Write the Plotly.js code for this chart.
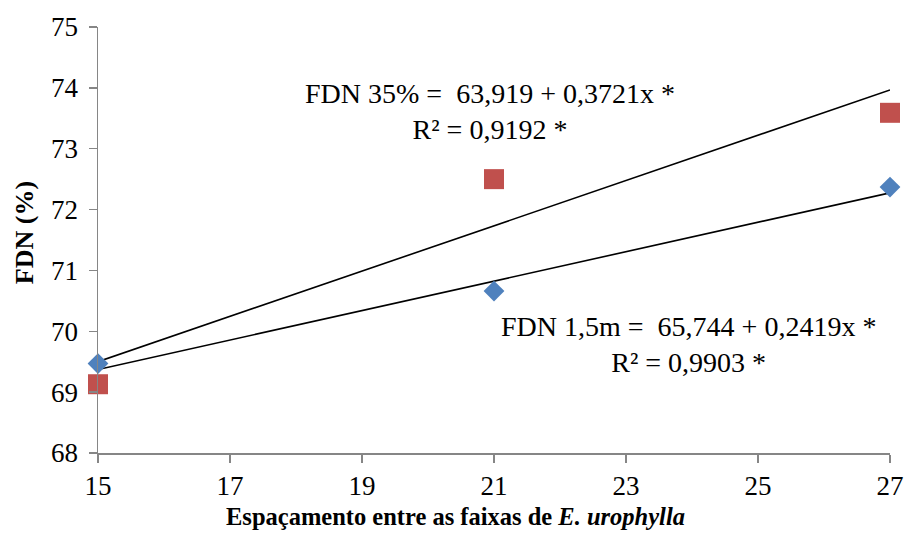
<!DOCTYPE html>
<html>
<head>
<meta charset="utf-8">
<script src="https://cdn.plot.ly/plotly-3.0.1.min.js"></script>
<style>
  html, body { margin: 0; padding: 0; background: #fff; }
  #chart { width: 907px; height: 541px; }
</style>
</head>
<body>
<div id="chart"></div>
<script>
// Spacing between E. urophylla strips (m)
const espacamento = [15, 21, 27];
// FDN (%) observed values
const fdn15m = [69.47, 70.66, 72.37];
const fdn35 = [69.13, 72.50, 73.59];
// Fitted linear regressions: intercept and slope
const reg15m = { a: 65.744, b: 0.2419 };
const reg35 = { a: 63.919, b: 0.3721 };
// Axis ticks
const xTicks = [15, 17, 19, 21, 23, 25, 27];
const yTicks = [68, 69, 70, 71, 72, 73, 74, 75];

const xFit = [espacamento[0], espacamento[espacamento.length - 1]];
const fitLine = r => xFit.map(x => r.a + r.b * x);

const serif = 'Liberation Serif, Times New Roman, serif';
const axisGray = '#868686';

const traces = [
  {
    x: xFit, y: fitLine(reg35), mode: 'lines', type: 'scatter',
    line: { color: '#000', width: 1.6 }, hoverinfo: 'skip', cliponaxis: false
  },
  {
    x: xFit, y: fitLine(reg15m), mode: 'lines', type: 'scatter',
    line: { color: '#000', width: 1.6 }, hoverinfo: 'skip', cliponaxis: false
  },
  {
    x: espacamento, y: fdn35, mode: 'markers', type: 'scatter', name: 'FDN 35%',
    marker: { symbol: 'square', size: 20, color: '#C0504D' }, cliponaxis: false
  },
  {
    x: espacamento, y: fdn15m, mode: 'markers', type: 'scatter', name: 'FDN 1,5m',
    marker: { symbol: 'diamond', size: 16, color: '#4F81BD' }, cliponaxis: false
  }
];

const layout = {
  width: 907, height: 541,
  margin: { l: 98, r: 17, t: 27, b: 88 },
  paper_bgcolor: '#fff', plot_bgcolor: '#fff',
  showlegend: false,
  font: { family: serif, color: '#000', size: 27 },
  xaxis: {
    range: [15, 27], tickvals: xTicks, ticktext: xTicks.map(String),
    showgrid: false, zeroline: false,
    showline: true, linecolor: axisGray, linewidth: 1.5,
    ticks: 'outside', ticklen: 8, tickwidth: 1.5, tickcolor: axisGray,
    tickfont: { family: serif, size: 27, color: '#000' }
  },
  yaxis: {
    range: [68, 75], tickvals: yTicks, ticktext: yTicks.map(String),
    showgrid: false, zeroline: false,
    showline: true, linecolor: axisGray, linewidth: 1.5,
    ticks: 'outside', ticklen: 8, tickwidth: 1.5, tickcolor: axisGray,
    ticklabelstandoff: 5,
    tickfont: { family: serif, size: 27, color: '#000' }
  },
  annotations: [
    // axis titles
    {
      x: 0.4508, y: -0.150, xref: 'paper', yref: 'paper', showarrow: false,
      xanchor: 'center', yanchor: 'middle',
      text: '<b>Espaçamento entre as faixas de <i>E. urophylla</i></b>',
      font: { family: serif, size: 24.5, color: '#000' }
    },
    {
      x: -0.0934, y: 0.516, xref: 'paper', yref: 'paper', showarrow: false,
      xanchor: 'center', yanchor: 'middle', textangle: -90,
      text: '<b>FDN (%)</b>',
      font: { family: serif, size: 26, color: '#000' }
    },
    // regression equations
    {
      x: 20.94, y: 73.61, xref: 'x', yref: 'y', showarrow: false, align: 'center',
      text: 'FDN 35% =\u00a0 63,919 + 0,3721x *<br>R² = 0,9192 *',
      font: { family: serif, size: 28, color: '#000' }
    },
    {
      x: 23.95, y: 69.775, xref: 'x', yref: 'y', showarrow: false, align: 'center',
      text: 'FDN 1,5m =\u00a0 65,744 + 0,2419x *<br>R² = 0,9903 *',
      font: { family: serif, size: 28, color: '#000' }
    }
  ]
};

Plotly.newPlot('chart', traces, layout, { displayModeBar: false, staticPlot: true });
</script>
</body>
</html>
